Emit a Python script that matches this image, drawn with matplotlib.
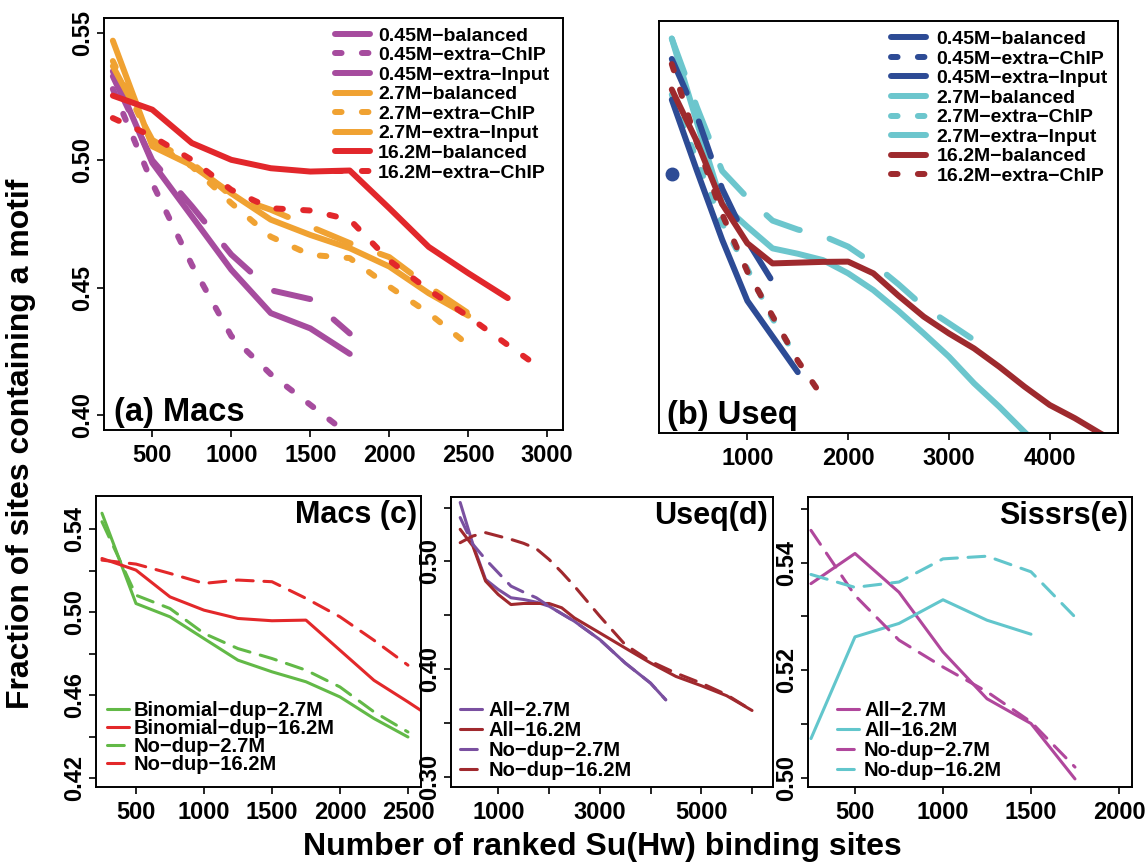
import numpy as np
import matplotlib.pyplot as plt
from matplotlib.lines import Line2D

plt.rcParams['font.family'] = ['Liberation Sans', 'DejaVu Sans']
plt.rcParams['font.weight'] = 'bold'
plt.rcParams['axes.linewidth'] = 1.4

# ---------------- data ----------------
# (a) Macs
a_x7 = [250, 500, 750, 1000, 1250, 1500, 1750]
a_x10 = [250, 500, 750, 1000, 1250, 1500, 1750, 2000, 2250, 2500]
a_x11 = [250, 500, 750, 1000, 1250, 1500, 1750, 2000, 2250, 2500, 2750]
a_x12 = [250, 500, 750, 1000, 1250, 1500, 1750, 2000, 2250, 2500, 2750, 2930]
a_045_bal = [0.535, 0.499, 0.478, 0.457, 0.440, 0.434, 0.424]
a_045_chip = [0.528, 0.491, 0.459, 0.431, 0.416, 0.404, 0.392]
a_045_inp = [0.533, 0.500, 0.482, 0.463, 0.449, 0.4455, 0.432]
a_27_bal = [0.547, 0.5055, 0.498, 0.487, 0.4767, 0.4707, 0.4655, 0.4583, 0.4478, 0.439]
a_27_chip = [0.539, 0.5068, 0.4976, 0.4832, 0.470, 0.4629, 0.4616, 0.4504, 0.440, 0.4275]
a_27_inp = [0.537, 0.508, 0.499, 0.486, 0.4806, 0.474, 0.4675, 0.462, 0.4504, 0.440]
a_162_bal = [0.5254, 0.5199, 0.5068, 0.5002, 0.4969, 0.4956, 0.496, 0.4812, 0.466, 0.4557, 0.4459]
a_162_chip = [0.5166, 0.5094, 0.5002, 0.4884, 0.4812, 0.4803, 0.4767, 0.4607, 0.4491, 0.4387, 0.4275, 0.4196]

# (b) Useq
b_x_bal045 = [250, 500, 750, 1000, 1250, 1500]
b_045_bal = [0.525, 0.497, 0.470, 0.446, 0.432, 0.418]
b_x_chip045 = [250]
b_045_chip = [0.496]
b_x_inp045 = [250, 500, 750, 1000, 1250]
b_045_inp = [0.541, 0.5185, 0.490, 0.4695, 0.4535]
b_x_bal27 = [250, 500, 750, 1000, 1250, 1500, 1750, 2000, 2250, 2500, 2750, 3000,
             3250, 3500, 3750, 4000]
b_27_bal = [0.549, 0.516, 0.484, 0.4751, 0.4666, 0.4645, 0.462, 0.4568, 0.4502, 0.442,
            0.4332, 0.4241, 0.4136, 0.4044, 0.3945, 0.385]
b_x_chip27 = [250, 500, 750, 1000, 1250, 1500]
b_27_chip = [0.527, 0.501, 0.4765, 0.4585, 0.439, 0.423]
b_x_inp27 = [250, 500, 750, 1000, 1250, 1500, 1750, 2000, 2250, 2500, 2750, 3000, 3250]
b_27_inp = [0.549, 0.522, 0.497, 0.4865, 0.4775, 0.474, 0.4715, 0.4673, 0.4606, 0.4525,
            0.4437, 0.4372, 0.4306]
b_x_bal162 = [250, 500, 750, 1000, 1250, 1500, 1750, 2000, 2250, 2500, 2750, 3000,
              3250, 3500, 3750, 4000, 4250, 4500, 4750]
b_162_bal = [0.529, 0.5085, 0.484, 0.4686, 0.4607, 0.461, 0.4613, 0.4614, 0.4568, 0.448,
             0.4398, 0.4332, 0.4273, 0.4201, 0.4123, 0.4051, 0.3999, 0.394, 0.3885]
b_x_chip162 = [250, 500, 750, 1000, 1250, 1500, 1750]
b_162_chip = [0.539, 0.508, 0.480, 0.4575, 0.440, 0.4225, 0.408]

# (c) Macs, duplicates
c_x10 = [250, 500, 750, 1000, 1250, 1500, 1750, 2000, 2250, 2500]
c_x11 = [250, 500, 750, 1000, 1250, 1500, 1750, 2000, 2250, 2500, 2750]
c_bin27 = [0.5476, 0.5041, 0.4977, 0.4872, 0.4768, 0.4712, 0.4664, 0.4591, 0.4487, 0.4398]
c_bin162 = [0.5258, 0.5202, 0.5073, 0.5009, 0.4969, 0.4958, 0.4961, 0.4816, 0.4671, 0.4567, 0.4459]
c_nd27 = [0.5435, 0.5081, 0.5017, 0.4897, 0.4824, 0.4776, 0.472, 0.4639, 0.4519, 0.4422]
c_nd162 = [0.525, 0.5231, 0.5186, 0.5138, 0.5154, 0.5146, 0.5066, 0.4977, 0.4864, 0.4744]

# (d) Useq, duplicates
d_x27 = [250, 500, 750, 1000, 1250, 1500, 1750, 2000, 2500, 3000, 3500, 4000, 4300]
d_all27 = [0.5547, 0.5159, 0.4833, 0.474, 0.4663, 0.4647, 0.4622, 0.4585, 0.4445, 0.4275,
           0.4058, 0.3871, 0.3716]
d_nd27 = [0.5407, 0.5159, 0.5019, 0.4895, 0.4771, 0.4715, 0.4663, 0.4585, 0.4445, 0.4275,
          0.4058, 0.3871, 0.3716]
d_x162 = [250, 500, 750, 1000, 1250, 1500, 1750, 2000, 2250, 2500, 3000, 3500, 4000,
          4500, 5000, 5500, 6000]
d_all162 = [0.5298, 0.5143, 0.4818, 0.4693, 0.460, 0.461, 0.461, 0.461, 0.457, 0.4476,
            0.4337, 0.4197, 0.4058, 0.3933, 0.3847, 0.3754, 0.3617]
d_nd162 = [0.5174, 0.5236, 0.5267, 0.5236, 0.5205, 0.5168, 0.5118, 0.5019, 0.490, 0.4771,
           0.4492, 0.4228, 0.4073, 0.3964, 0.3871, 0.3763, 0.3617]

# (e) Sissrs, duplicates
e_x7 = [250, 500, 750, 1000, 1250, 1500, 1750]
e_x6 = [250, 500, 750, 1000, 1250, 1500]
e_all27 = [0.5361, 0.5417, 0.5345, 0.5234, 0.5147, 0.5101, 0.4998]
e_all162 = [0.5073, 0.5262, 0.5287, 0.5331, 0.5293, 0.5267]
e_nd27 = [0.546, 0.5339, 0.5256, 0.5206, 0.516, 0.5104, 0.502]
e_nd162 = [0.5378, 0.5354, 0.5364, 0.5407, 0.5412, 0.5383, 0.5299]

# ---------------- style ----------------
purple, orange, red = '#A64C9E', '#F0A232', '#E2272B'
navy, teal, maroon = '#2D4B95', '#6CC6CD', '#9E2A2E'
green, red2 = '#62B947', '#E3282A'
violet, maroon2 = '#7A50A0', '#A0292E'
magenta, teal2 = '#B0479C', '#62C6CC'

CHIP = (1.1, 3.4)
INPUT = (6.2, 5.2)
DASH = (5.5, 3.5)
LW_UP, LW_LO = 4.3, 2.2

W, H = 1146, 863


def box(l, t, r, b):
    return [l / W, 1 - b / H, (r - l) / W, (b - t) / H]


def line(ax, x, y, color, lw, dashes=None, label=None):
    kw = dict(color=color, lw=lw, label=label, solid_capstyle='round',
              dash_capstyle='round', solid_joinstyle='round')
    if dashes:
        kw['dashes'] = dashes
    return ax.plot(x, y, **kw)[0]


def handle(color, lw, dashes=None):
    kw = dict(color=color, lw=lw, solid_capstyle='round', dash_capstyle='round')
    if dashes:
        kw['dashes'] = dashes
    return Line2D([], [], **kw)


def style(ax, xt, yt, ytl, xtl=None):
    ax.set_xticks(xt)
    ax.set_xticklabels(xtl if xtl is not None else [str(v) for v in xt])
    ax.set_yticks(yt)
    ax.set_yticklabels(ytl, rotation=90, va='center')
    ax.tick_params(length=5, width=1.2, labelsize=17, pad=5)
    ax.tick_params(axis='y', pad=2)


fig = plt.figure(figsize=(11.46, 8.63), dpi=100)

# ---- (a)
ax = fig.add_axes(box(104, 18, 563, 430))
line(ax, a_x7, a_045_bal, purple, LW_UP, None, '0.45M\u2212balanced')
line(ax, a_x7, a_045_chip, purple, LW_UP, CHIP, '0.45M\u2212extra\u2212ChIP')
line(ax, a_x7, a_045_inp, purple, LW_UP, INPUT, '0.45M\u2212extra\u2212Input')
line(ax, a_x10, a_27_bal, orange, LW_UP, None, '2.7M\u2212balanced')
line(ax, a_x10, a_27_chip, orange, LW_UP, CHIP, '2.7M\u2212extra\u2212ChIP')
line(ax, a_x10, a_27_inp, orange, LW_UP, INPUT, '2.7M\u2212extra\u2212Input')
line(ax, a_x11, a_162_bal, red, LW_UP, None, '16.2M\u2212balanced')
line(ax, a_x12, a_162_chip, red, LW_UP, CHIP, '16.2M\u2212extra\u2212ChIP')
ax.set_xlim(194, 3100)
ax.set_ylim(0.3941, 0.5559)
style(ax, [500, 1000, 1500, 2000, 2500, 3000], [0.40, 0.45, 0.50, 0.55],
      ['0.40', '0.45', '0.50', '0.55'])
ax.legend(loc='upper left', bbox_to_anchor=(0.503, 0.978), frameon=False, fontsize=14,
          handlelength=1.8, handletextpad=0.42, labelspacing=0.1, borderpad=0,
          borderaxespad=0)
ax.text(0.022, 0.004, '(a) Macs', transform=ax.transAxes, ha='left', va='bottom',
        fontsize=23.5, fontweight='bold')

# ---- (b)
ax = fig.add_axes(box(659, 21, 1118, 433))
line(ax, b_x_chip27, b_27_chip, teal, LW_UP, CHIP)
line(ax, b_x_inp27, b_27_inp, teal, LW_UP, INPUT)
line(ax, b_x_bal27, b_27_bal, teal, LW_UP)
line(ax, b_x_bal045, b_045_bal, navy, LW_UP)
ax.plot(b_x_chip045, b_045_chip, 'o', color=navy, ms=9)
line(ax, b_x_inp045, b_045_inp, navy, LW_UP, INPUT)
line(ax, b_x_chip162, b_162_chip, maroon, LW_UP, CHIP)
line(ax, b_x_bal162, b_162_bal, maroon, LW_UP)
ax.set_xlim(123, 4678)
ax.set_ylim(0.3941, 0.5559)
style(ax, [1000, 2000, 3000, 4000], [], [])
hb = [handle(navy, LW_UP), handle(navy, LW_UP, CHIP), handle(navy, LW_UP, INPUT),
      handle(teal, LW_UP), handle(teal, LW_UP, CHIP), handle(teal, LW_UP, INPUT),
      handle(maroon, LW_UP), handle(maroon, LW_UP, CHIP)]
lb = ['0.45M\u2212balanced', '0.45M\u2212extra\u2212ChIP', '0.45M\u2212extra\u2212Input',
      '2.7M\u2212balanced', '2.7M\u2212extra\u2212ChIP', '2.7M\u2212extra\u2212Input',
      '16.2M\u2212balanced', '16.2M\u2212extra\u2212ChIP']
ax.legend(hb, lb, loc='upper left', bbox_to_anchor=(0.505, 0.977), frameon=False,
          fontsize=14, handlelength=1.8, handletextpad=0.55, labelspacing=0.1,
          borderpad=0, borderaxespad=0)
ax.text(0.018, 0.004, '(b) Useq', transform=ax.transAxes, ha='left', va='bottom',
        fontsize=23.5, fontweight='bold')

# ---- (c)
ax = fig.add_axes(box(96, 496, 421, 787))
line(ax, c_x10, c_bin27, green, LW_LO, None, 'Binomial\u2212dup\u22122.7M')
line(ax, c_x11, c_bin162, red2, LW_LO, None, 'Binomial\u2212dup\u221216.2M')
line(ax, c_x10, c_nd27, green, LW_LO, DASH, 'No\u2212dup\u22122.7M')
line(ax, c_x10, c_nd162, red2, LW_LO, DASH, 'No\u2212dup\u221216.2M')
ax.set_xlim(206, 2596)
ax.set_ylim(0.4157, 0.5559)
style(ax, [500, 1000, 1500, 2000, 2500], [0.42, 0.44, 0.46, 0.48, 0.50, 0.52, 0.54],
      ['0.42', '', '0.46', '', '0.50', '', '0.54'])
ax.legend(loc='upper left', bbox_to_anchor=(0.033, 0.296), frameon=False, fontsize=14.5,
          handlelength=1.1, handletextpad=0.25, labelspacing=-0.04, borderpad=0,
          borderaxespad=0)
ax.text(0.987, 0.985, 'Macs (c)', transform=ax.transAxes, ha='right', va='top',
        fontsize=22, fontweight='bold')

# ---- (d)
ax = fig.add_axes(box(451, 497, 773, 787))
line(ax, d_x27, d_all27, violet, LW_LO, None, 'All\u22122.7M')
line(ax, d_x162, d_all162, maroon2, LW_LO, None, 'All\u221216.2M')
line(ax, d_x27, d_nd27, violet, LW_LO, DASH, 'No\u2212dup\u22122.7M')
line(ax, d_x162, d_nd162, maroon2, LW_LO, DASH, 'No\u2212dup\u221216.2M')
ax.set_xlim(69, 6413)
ax.set_ylim(0.2907, 0.5598)
style(ax, [1000, 2000, 3000, 4000, 5000, 6000], [0.30, 0.35, 0.40, 0.45, 0.50, 0.55],
      ['0.30', '', '0.40', '', '0.50', ''], ['1000', '', '3000', '', '5000', ''])
ax.legend(loc='upper left', bbox_to_anchor=(0.028, 0.296), frameon=False, fontsize=14.5,
          handlelength=1.1, handletextpad=0.3, labelspacing=0.04, borderpad=0,
          borderaxespad=0)
ax.text(0.985, 0.985, 'Useq(d)', transform=ax.transAxes, ha='right', va='top',
        fontsize=22, fontweight='bold')

# ---- (e)
ax = fig.add_axes(box(808, 497, 1132, 787))
line(ax, e_x7, e_all27, magenta, LW_LO, None, 'All\u22122.7M')
line(ax, e_x6, e_all162, teal2, LW_LO, None, 'All\u221216.2M')
line(ax, e_x7, e_nd27, magenta, LW_LO, DASH, 'No-dup\u22122.7M')
line(ax, e_x7, e_nd162, teal2, LW_LO, DASH, 'No-dup\u221216.2M')
ax.set_xlim(233, 2074)
ax.set_ylim(0.4983, 0.5522)
style(ax, [500, 1000, 1500, 2000], [0.50, 0.51, 0.52, 0.53, 0.54, 0.55],
      ['0.50', '', '0.52', '', '0.54', ''])
ax.legend(loc='upper left', bbox_to_anchor=(0.089, 0.296), frameon=False, fontsize=14.5,
          handlelength=1.1, handletextpad=0.25, labelspacing=0.04, borderpad=0,
          borderaxespad=0)
ax.text(0.988, 0.985, 'Sissrs(e)', transform=ax.transAxes, ha='right', va='top',
        fontsize=22, fontweight='bold')

fig.text(0.0185, 0.4855, 'Fraction of sites containing a motif', rotation=90,
         ha='center', va='center', fontsize=23, fontweight='bold')
fig.text(0.5253, 0.0185, 'Number of ranked Su(Hw) binding sites', ha='center',
         va='center', fontsize=23, fontweight='bold')

fig.savefig('out.png', dpi=100)
